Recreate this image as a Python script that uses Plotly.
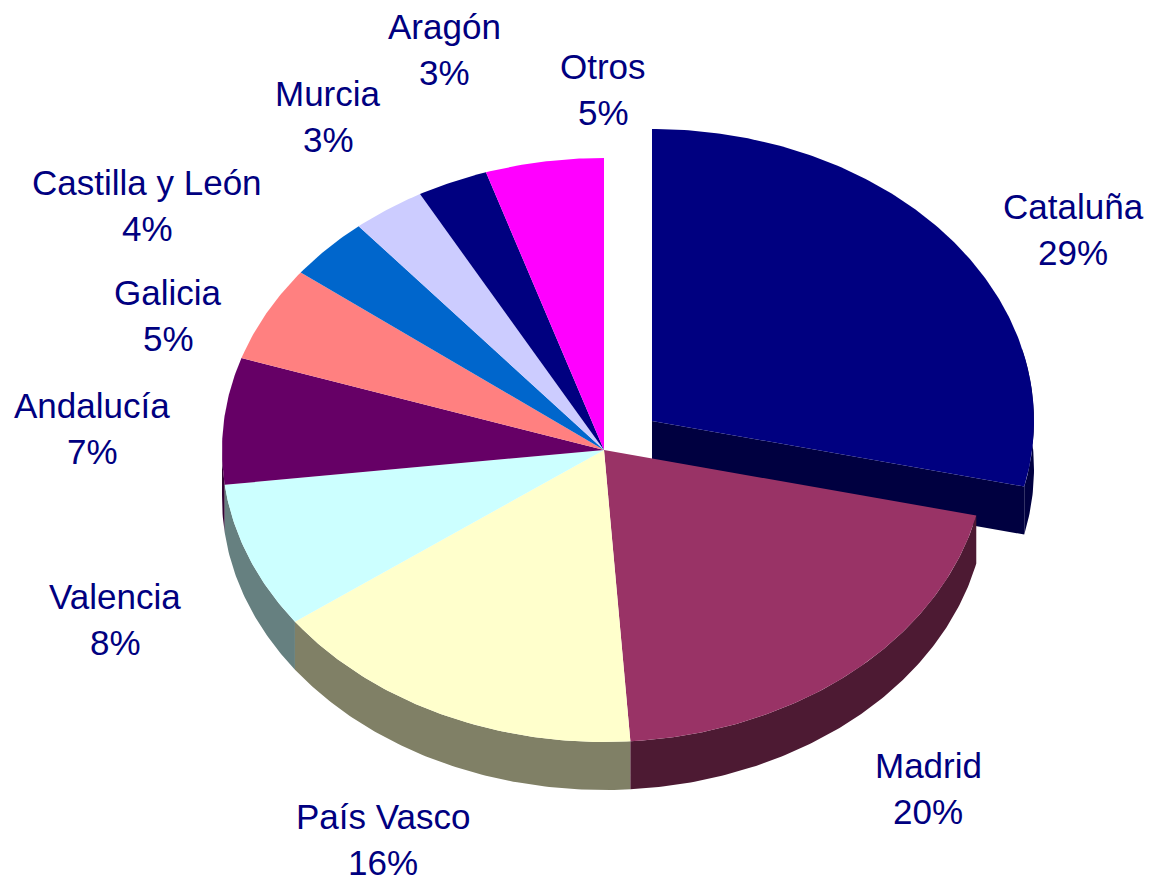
import numpy as np
import plotly.graph_objects as go

categories = ["Cataluña", "Madrid", "País Vasco", "Valencia", "Andalucía",
              "Galicia", "Castilla y León", "Murcia", "Aragón", "Otros"]
values = [28.6, 20.3, 16.1, 8.1, 7.0, 5.3, 3.5, 3.1, 3.0, 5.0]

top_colors = ["#000080", "#993366", "#FFFFCC", "#CCFFFF", "#660066",
              "#FF8080", "#0066CC", "#CCCCFF", "#000080", "#FF00FF"]
side_colors = ["#000040", "#4D1A33", "#808066", "#668080", "#330033",
               "#804040", "#003366", "#666680", "#000040", "#800080"]

# pie projection on a pixel-sized axis
CX, CY, RX, RY, DEPTH = 604, 450, 382, 292, 48
EXPLODE = {0: (48, -29)}

label_x = [1073, 928, 383, 115, 92, 168, 147, 328, 444, 603]
label_name_y = [206, 765, 816, 596, 405, 292, 182, 93, 26, 66]
LINE_GAP = 46
TEXT = "#000080"


def px(a, dx=0):
    return CX + dx + RX * np.sin(a)


def py(a, dy=0):
    return CY + dy + RY * (-np.cos(a))


fig = go.Figure()


def poly(xs, ys, color):
    fig.add_trace(go.Scatter(x=list(xs), y=list(ys), mode="lines", fill="toself",
                             fillcolor=color, line=dict(width=0, color=color),
                             hoverinfo="skip", showlegend=False))


edges = np.cumsum([0] + values) / sum(values) * 2 * np.pi
arcs = []
for i in range(len(values)):
    n = max(int(values[i] * 6), 8)
    arcs.append(np.linspace(edges[i], edges[i + 1], n))

# sides: back to front, exploded slice first
dx, dy = EXPLODE[0]
a = arcs[0]
end = a[-1]
# cut face along the slice's trailing edge
poly([CX + dx, px(end, dx), px(end, dx), CX + dx],
     [CY + dy, py(end, dy), py(end, dy + DEPTH), CY + dy + DEPTH], side_colors[0])
# rim of the exploded slice
vis = a[a >= np.pi / 2 - 0.25]
poly(np.r_[px(vis, dx), px(vis[::-1], dx)],
     np.r_[py(vis, dy), py(vis[::-1], dy + DEPTH)], side_colors[0])

for i in range(4, 0, -1):
    a = arcs[i]
    vis = a[a <= 3 * np.pi / 2 + 0.02]
    if len(vis) < 2:
        continue
    poly(np.r_[px(vis), px(vis[::-1])],
         np.r_[py(vis), py(vis[::-1], DEPTH)], side_colors[i])

# tops
for i in range(len(values)):
    dx, dy = EXPLODE.get(i, (0, 0))
    a = arcs[i]
    poly(np.r_[CX + dx, px(a, dx), CX + dx], np.r_[CY + dy, py(a, dy), CY + dy], top_colors[i])

# labels
font = dict(family="Liberation Sans, Arial, sans-serif", size=35, color=TEXT)
for name, v, x, y in zip(categories, values, label_x, label_name_y):
    fig.add_annotation(x=x, y=y, text=name, showarrow=False, font=font,
                       xanchor="center", yanchor="middle")
    fig.add_annotation(x=x, y=y + LINE_GAP, text=f"{round(v + 1e-9)}%", showarrow=False, font=font,
                       xanchor="center", yanchor="middle")

fig.update_layout(
    width=1149, height=879, margin=dict(l=0, r=0, t=0, b=0),
    paper_bgcolor="white", plot_bgcolor="white", showlegend=False,
    xaxis=dict(range=[0, 1149], visible=False, fixedrange=True),
    yaxis=dict(range=[879, 0], visible=False, fixedrange=True),
)
fig.write_html("out.html", post_script="document.body.style.margin='0';",
               config=dict(displayModeBar=False))
